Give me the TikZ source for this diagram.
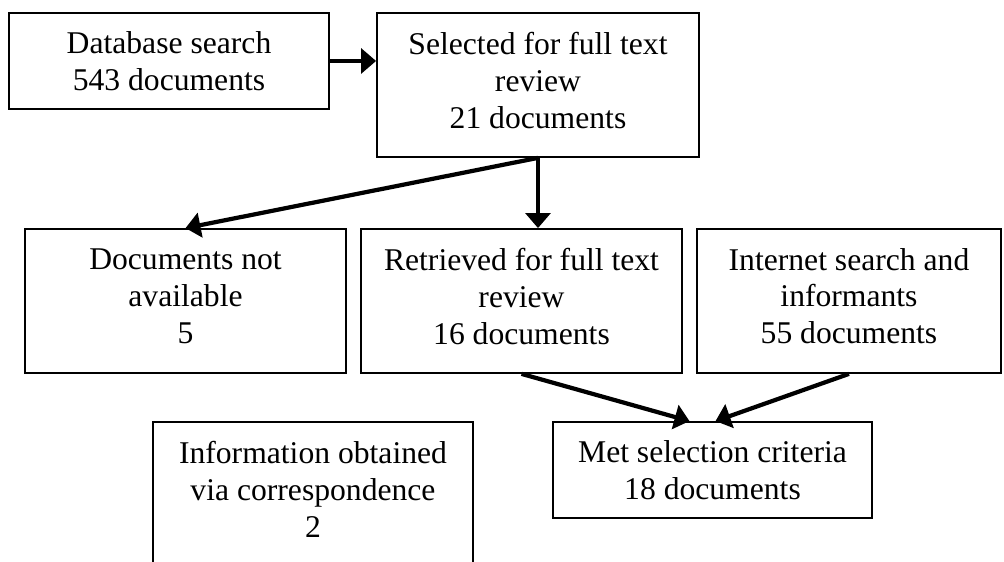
\documentclass[tikz,border=0pt]{standalone}
\usepackage{fontspec}
\setmainfont{Liberation Serif}
\usetikzlibrary{arrows.meta}
\usetikzlibrary{positioning}

% a little depth under the last line, so three-line texts sit higher
\newcommand{\liftup}{\rule[-0.2cm]{0pt}{0pt}}

\begin{document}
\begin{tikzpicture}[>={Triangle[length=8.5pt,width=14pt]},
    stage/.style={draw, line width=1pt, align=center, inner sep=0pt,
      minimum width=6.4cm, minimum height=2.88cm,
      font=\fontsize{18}{21}\selectfont},
    short/.style={minimum height=1.92cm},
    flow/.style={->, line width=2.4pt}]
      \path[use as bounding box] (0, 0) rectangle (20.08, 11.24);
      \clip (0, 0) rectangle (20.08, 11.24);

      \node[stage, short] (db) at (3.38, 10.02) {Database search\\543 documents};
      \node[stage, minimum width=6.44cm] (sel) at (10.76, 9.54) {Selected for full text\\review\\21 documents\liftup};

      \node[stage, minimum width=6.42cm] (na) at (3.71, 5.22) {Documents not\\available\\5\liftup};
      \node[stage, minimum width=6.42cm] (ret) at (10.43, 5.22) {Retrieved for full text\\review\\16 documents\liftup};
      \node[stage, minimum width=6.08cm] (web) at (16.98, 5.22) {Internet search and\\informants\\55 documents\liftup};

      \node[stage] (corr) at (6.26, 1.36) {Information obtained\\via correspondence\\2\liftup};
      \node[stage, short, minimum width=6.38cm] (met) at (14.25, 1.84) {Met selection criteria\\18 documents};

      \draw[flow] (db.east) -- (db.east -| sel.west);
      \draw[flow] (sel.south) -- (na.north);
      \draw[flow] (sel.south) -- (sel.south |- ret.north);
      \draw[flow] (ret.south) -- ([xshift=-0.46cm]met.north);
      \draw[flow] (web.south) -- ([xshift=0.06cm]met.north);
    \end{tikzpicture}
\end{document}
